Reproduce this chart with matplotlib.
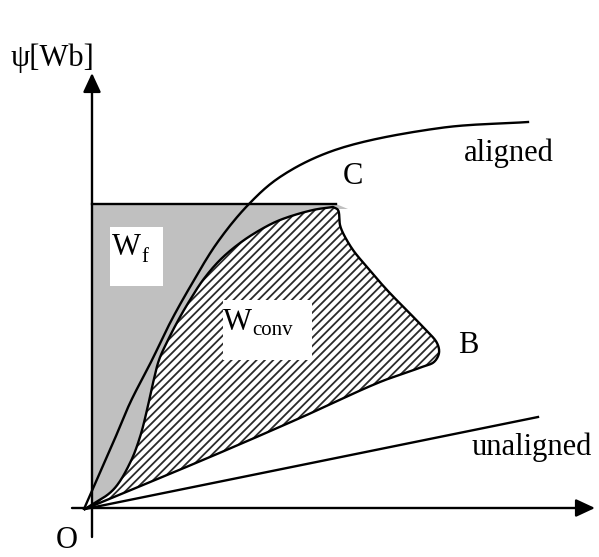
import numpy as np
import matplotlib as mpl
import matplotlib.pyplot as plt
from matplotlib.patches import Polygon, Rectangle

mpl.rcParams["font.family"] = ["Liberation Serif", "DejaVu Serif"]
mpl.rcParams["hatch.linewidth"] = 1.3

# ------------------------------------------------------------------
# flux-linkage / current loci (i, psi), arbitrary units, O at (0, 0)
# ------------------------------------------------------------------
aligned_i = [-8, 21, 38, 60, 78, 98, 125, 156, 188, 243, 348, 436]
aligned_psi = [-1, 65, 105, 148, 185, 221, 265, 303, 331, 358, 380, 386]

unaligned_i = [-7, 446]
unaligned_psi = [-1, 91]

# energy conversion loop: O -> C along the rising branch
loop_up_i = [-7, 21, 38, 48, 55, 61, 67, 76, 88, 98, 111, 128, 148, 168, 188, 221, 241]
loop_up_psi = [-1, 18, 45, 71, 98, 125, 148, 168, 191, 208, 228, 248, 265, 278, 288, 298, 301]

# ... then C -> B -> O along the falling branch
loop_down_i = [241, 246, 248, 251, 261, 275, 295, 331, 345, 347, 342, 330, 288, 208, 118, -7]
loop_down_psi = [301, 298, 283, 275, 258, 241, 218, 181, 165, 155, 146, 141, 126, 90, 51, -1]

psi_c = 304          # flux level at point C
i_c = 244

# small grey tip past C
tip_i = [256, 246]
tip_psi = [299, 299]


def smooth(xs, ys, n=20, alpha=0.5):
    """Centripetal Catmull-Rom curve through the given knots."""
    p = np.column_stack([xs, ys]).astype(float)
    p = np.vstack([2 * p[0] - p[1], p, 2 * p[-1] - p[-2]])
    out = []
    for k in range(1, len(p) - 2):
        p0, p1, p2, p3 = p[k - 1], p[k], p[k + 1], p[k + 2]
        t0 = 0.0
        t1 = t0 + np.linalg.norm(p1 - p0) ** alpha
        t2 = t1 + np.linalg.norm(p2 - p1) ** alpha
        t3 = t2 + np.linalg.norm(p3 - p2) ** alpha
        t = np.linspace(t1, t2, n, endpoint=False)[:, None]
        a1 = (t1 - t) / (t1 - t0) * p0 + (t - t0) / (t1 - t0) * p1
        a2 = (t2 - t) / (t2 - t1) * p1 + (t - t1) / (t2 - t1) * p2
        a3 = (t3 - t) / (t3 - t2) * p2 + (t - t2) / (t3 - t2) * p3
        b1 = (t2 - t) / (t2 - t0) * a1 + (t - t0) / (t2 - t0) * a2
        b2 = (t3 - t) / (t3 - t1) * a2 + (t - t1) / (t3 - t1) * a3
        out.append((t2 - t) / (t2 - t1) * b1 + (t - t1) / (t2 - t1) * b2)
    out.append(p[-2][None])
    return np.vstack(out)


aligned = smooth(aligned_i, aligned_psi)
loop_up = smooth(loop_up_i, loop_up_psi)
loop_down = smooth(loop_down_i, loop_down_psi)
loop = np.vstack([loop_up, loop_down[1:]])

fig = plt.figure(figsize=(5.99, 5.57), dpi=100)
ax = fig.add_axes([0, 0, 1, 1])
ax.set_xlim(-92, 507)
ax.set_ylim(-49, 508)
ax.axis("off")

# W_f : area between the psi axis, the C level and the rising branch
grey = np.vstack([[[0, 1], [0, psi_c], [i_c, psi_c]],
                  np.column_stack([tip_i, tip_psi]),
                  loop_up[::-1]])
ax.add_patch(Polygon(grey, closed=True, facecolor="#c0c0c0",
                     edgecolor="none", zorder=1))

# W_conv : hatched loop
ax.add_patch(Polygon(loop, closed=True, facecolor="white", edgecolor="#2a2a2a",
                     linewidth=0, hatch="////", zorder=2))
ax.plot(loop[:, 0], loop[:, 1], color="black", lw=1.7, zorder=3)

ax.plot(aligned[:, 0], aligned[:, 1], color="black", lw=1.7, zorder=3)
ax.plot(unaligned_i, unaligned_psi, color="black", lw=1.7, zorder=3)
ax.plot([0, i_c], [psi_c, psi_c], color="black", lw=1.7, zorder=3)

# axes with arrow heads
arrow = dict(arrowstyle="-|>,head_length=0.58,head_width=0.27",
             mutation_scale=20, lw=1.7, color="black", shrinkA=0, shrinkB=0)
ax.annotate("", xy=(0, 435), xytext=(0, -29), arrowprops=arrow, zorder=4)
ax.annotate("", xy=(503, 0), xytext=(-20, 0), arrowprops=arrow, zorder=4)

# white label boxes
ax.add_patch(Rectangle((18, 222), 53, 59, facecolor="white", edgecolor="none", zorder=4))
ax.add_patch(Rectangle((131, 148), 89, 60, facecolor="white", edgecolor="none", zorder=4))

fs = 22
ax.text(20, 253, "W", fontsize=fs, va="baseline", zorder=5)
ax.text(49, 246, "f", fontsize=15, va="baseline", zorder=5)
ax.text(131, 178, "W", fontsize=fs, va="baseline", zorder=5)
ax.text(160, 173, "conv", fontsize=15, va="baseline", zorder=5)

ax.text(-40, 442, "ψ[Wb]", fontsize=fs, ha="center", va="baseline")
ax.text(372, 347, "aligned", fontsize=fs, va="baseline")
ax.text(251, 324, "C", fontsize=fs, va="baseline")
ax.text(366, 155, "B", fontsize=fs, va="baseline")
ax.text(380, 53, "unaligned", fontsize=fs, va="baseline")
ax.text(-25, -40, "O", fontsize=fs, ha="center", va="baseline")

fig.savefig("out.png", dpi=100)
plt.close(fig)
